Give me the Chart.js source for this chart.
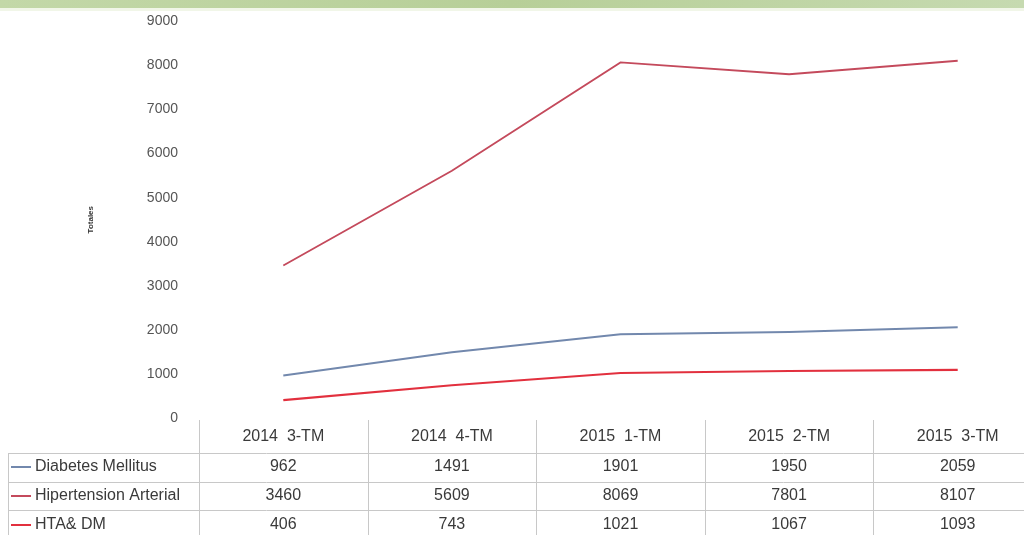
<!DOCTYPE html>
<html>
<head>
<meta charset="utf-8">
<script src="https://cdn.jsdelivr.net/npm/chart.js@4"></script>
<style>
  html, body { margin: 0; padding: 0; background: #fff; overflow: hidden; }
  #banda { position: absolute; left: 0; top: 0; width: 1024px; height: 8px;
           background: linear-gradient(to right, #c3d8a8, #b7cf98 50%, #c6dab0);
           border-bottom: 3px solid #f1f6e8; }
  #wrap { position: absolute; left: 0; top: 0; width: 1042px; height: 535px; }
</style>
</head>
<body>
<div id="wrap"><canvas id="grafico"></canvas></div>
<div id="banda"></div>
<script>
const periodos = ["2014  3-TM", "2014  4-TM", "2015  1-TM", "2015  2-TM", "2015  3-TM"];
const diabetes = [962, 1491, 1901, 1950, 2059];
const hipertension = [3460, 5609, 8069, 7801, 8107];
const htaDm = [406, 743, 1021, 1067, 1093];
const nombres = ["Diabetes Mellitus", "Hipertension Arterial", "HTA& DM"];
const colores = ["#7288ad", "#c44a5c", "#e2303e"];

const fuente = "'Liberation Sans', Arial, sans-serif";

// tabla de datos bajo el grafico (como en Excel)
const tablaDatos = {
  id: "tablaDatos",
  afterDraw(chart) {
    const ctx = chart.ctx;
    const x = chart.scales.x;
    const area = chart.chartArea;
    const ancho = (area.right - area.left) / periodos.length;
    const filas = [467, 496, 525];
    const lineas = [453, 482, 510];
    ctx.save();
    ctx.strokeStyle = "#c8c8c8";
    ctx.lineWidth = 1;
    // separadores verticales
    for (let i = 0; i <= periodos.length; i++) {
      const px = Math.round(area.left + i * ancho) + 0.5;
      ctx.beginPath(); ctx.moveTo(px, area.bottom + 2); ctx.lineTo(px, 535); ctx.stroke();
    }
    // borde izquierdo y lineas horizontales
    ctx.beginPath(); ctx.moveTo(8.5, lineas[0]); ctx.lineTo(8.5, 535); ctx.stroke();
    lineas.forEach(y => {
      ctx.beginPath(); ctx.moveTo(8, y + 0.5); ctx.lineTo(area.right, y + 0.5); ctx.stroke();
    });
    ctx.fillStyle = "#3a3a3a";
    ctx.textAlign = "center";
    ctx.textBaseline = "middle";
    ctx.font = "16px " + fuente;
    periodos.forEach((p, i) => ctx.fillText(p, x.getPixelForValue(i), 437));
    const series = [diabetes, hipertension, htaDm];
    series.forEach((serie, s) => {
      serie.forEach((v, i) => ctx.fillText(String(v), x.getPixelForValue(i), filas[s]));
    });
    // nombres de series con su clave
    ctx.textAlign = "left";
    nombres.forEach((n, s) => {
      ctx.strokeStyle = colores[s];
      ctx.lineWidth = 2;
      ctx.beginPath(); ctx.moveTo(11, filas[s]); ctx.lineTo(31, filas[s]); ctx.stroke();
      ctx.fillStyle = "#3a3a3a";
      ctx.fillText(n, 35, filas[s]);
    });
    ctx.restore();
  }
};

const ctx = document.getElementById("grafico").getContext("2d");
new Chart(ctx, {
  type: "line",
  data: {
    labels: periodos,
    datasets: [
      { label: nombres[0], data: diabetes, borderColor: colores[0], borderWidth: 2, pointRadius: 0, fill: false, tension: 0 },
      { label: nombres[1], data: hipertension, borderColor: colores[1], borderWidth: 1.8, pointRadius: 0, fill: false, tension: 0 },
      { label: nombres[2], data: htaDm, borderColor: colores[2], borderWidth: 2.2, pointRadius: 0, fill: false, tension: 0 }
    ]
  },
  options: {
    responsive: true,
    maintainAspectRatio: false,
    animation: false,
    layout: { padding: { top: 17, bottom: 117, left: 0, right: 0 } },
    plugins: { legend: { display: false }, tooltip: { enabled: false } },
    scales: {
      x: { display: false, offset: true },
      y: {
        min: 0, max: 9000,
        afterFit(scale) { scale.width = 199; },
        grid: { display: false },
        border: { display: false },
        ticks: { stepSize: 1000, padding: 13, color: "#555", font: { family: fuente, size: 14 },
                 callback: v => String(v) },
        title: { display: true, text: "Totales", color: "#333", font: { family: fuente, size: 8, weight: "bold" }, padding: { top: 86, bottom: 0 } }
      }
    }
  },
  plugins: [tablaDatos]
});
</script>
</body>
</html>
